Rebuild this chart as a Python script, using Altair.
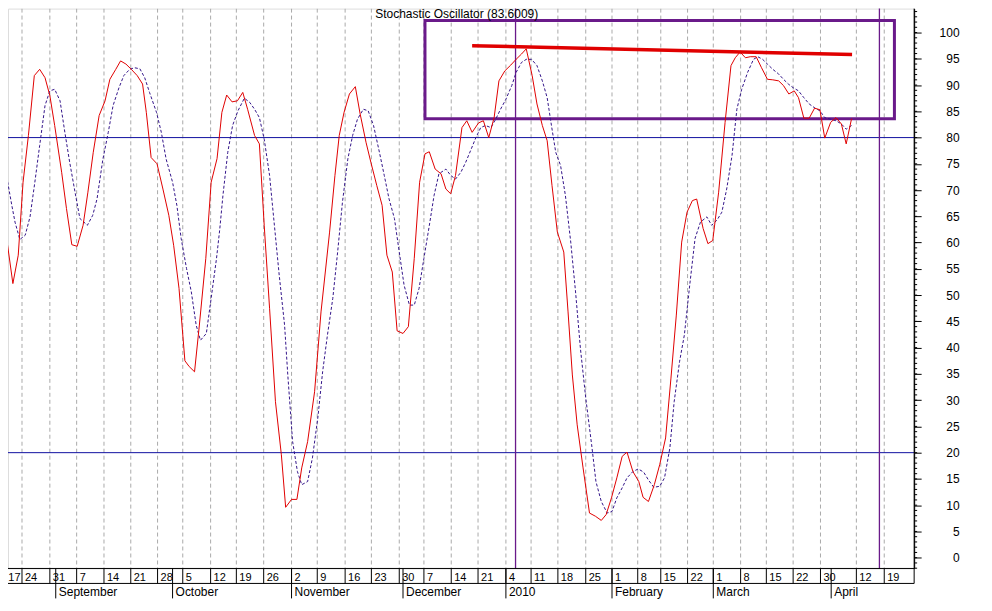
import altair as alt
import pandas as pd

# ---------------- data (trading-day position, value) ----------------
k_day = [0.0, 0.9, 2.4, 3.4, 4.3, 5.3, 6.4, 7.4, 8.4, 9.3, 10.2, 11.5, 12.4, 13.4, 14.4, 15.5,
         16.4, 17.4, 18.5, 19.6, 20.5, 21.6, 22.5, 23.5, 24.5, 25.6, 26.6, 27.3, 28.2, 29.3, 30.4,
         31.5, 32.4, 33.4, 34.5, 35.3, 36.3, 37.2, 38.4, 39.4, 40.5, 41.4, 42.3, 43.3, 44.3, 45.3,
         46.2, 47.5, 48.4, 49.3, 50.3, 51.4, 52.5, 53.3, 54.4, 55.4, 56.3, 57.4, 58.7, 59.9, 61.5,
         62.5, 63.3, 64.2, 65.2, 66.3, 67.2, 68.3, 69.2, 70.3, 71.3, 72.2, 73.2, 74.1, 75.2, 76.2,
         77.3, 78.3, 79.3, 80.1, 81.2, 82.3, 83.2, 84.1, 85.0, 86.2, 87.1, 88.1, 89.3, 90.2, 91.2,
         92.2, 93.1, 94.2, 95.3, 96.3, 97.3, 98.2, 99.3, 100.2, 101.2, 102.1, 103.0, 104.0, 105.2,
         106.0, 106.8, 107.7, 108.8, 110.0, 111.1, 112.2, 113.1, 114.1, 115.1, 116.1, 117.0, 118.1,
         119.2, 120.0, 121.0, 122.1, 123.1, 124.2, 125.2, 126.2, 127.2, 128.2, 129.2, 130.0, 131.2,
         132.1, 133.0, 134.1, 135.3, 136.4, 137.2, 138.1, 139.1, 140.0, 141.1, 142.1, 143.2, 144.2,
         145.3, 146.2, 147.2, 148.2, 149.0, 150.0, 151.0, 152.0, 153.0, 153.9, 155.0, 156.0, 157.0,
         157.9, 158.9]
k_val = [68.3, 63.3, 52.2, 57.6, 71.5, 80.4, 91.8, 93.0, 91.4, 88.0, 82.3, 73.4, 66.5, 59.6, 59.3, 63.3,
         69.6, 77.2, 84.2, 87.0, 91.1, 93.0, 94.6, 94.0, 93.0, 91.8, 90.2, 84.8, 76.2, 75.0, 70.2,
         65.2, 59.5, 51.3, 37.5, 36.4, 35.4, 44.3, 57.0, 71.5, 76.0, 84.8, 88.1, 86.8, 87.0, 88.6,
         85.4, 80.4, 78.8, 63.3, 47.5, 29.7, 19.6, 9.6, 11.1, 11.1, 17.1, 22.1, 31.6, 46.8, 62.0,
         72.8, 80.4, 84.8, 88.3, 89.7, 84.5, 79.1, 75.3, 70.9, 67.1, 57.6, 54.4, 43.2, 42.7, 44.0,
         57.0, 71.5, 76.9, 77.3, 74.0, 73.1, 70.2, 69.3, 72.8, 81.9, 83.2, 81.0, 82.8, 83.2, 80.0,
         83.8, 90.8, 92.7, 93.8, 94.9, 95.9, 96.9, 91.8, 86.4, 82.3, 79.4, 70.9, 62.0, 58.2,
         46.8, 34.8, 25.3, 17.1, 8.5, 7.9, 7.1, 8.2, 11.4, 15.2, 19.3, 20.1, 16.4,
         14.5, 11.5, 10.7, 13.9, 17.7, 22.8, 34.2, 46.2, 60.1, 65.8, 68.0, 68.3, 62.7,
         59.8, 60.4, 69.6, 82.9, 93.7, 95.2, 96.3, 95.2, 95.4, 95.4, 93.3, 91.1, 91.0,
         90.8, 89.9, 88.3, 88.9, 87.6, 83.7, 83.7, 85.6, 85.3, 79.9, 82.9, 83.8, 82.6,
         78.8, 83.6]

d_day = [0.0, 1.1, 2.2, 2.8, 3.7, 4.7, 5.6, 6.5, 7.4, 8.4, 9.3, 10.2, 11.2, 12.1, 13.0, 14.0,
         14.9, 16.3, 17.3, 18.1, 19.2, 20.2, 21.1, 22.2, 23.1, 24.2, 25.1, 26.1, 27.0, 27.9, 29.2,
         30.1, 31.0, 32.2, 33.0, 33.8, 34.8, 35.7, 36.6, 37.4, 38.5, 39.4, 40.4, 41.0, 41.6, 42.5,
         43.4, 44.4, 45.6, 46.6, 47.5, 48.4, 49.3, 50.3, 51.2, 52.1, 53.1, 53.7, 54.6, 55.5, 56.3,
         57.4, 58.3, 59.3, 60.2, 61.1, 62.1, 63.0, 63.9, 64.9, 65.8, 66.7, 67.8, 68.7, 69.7, 70.8,
         71.7, 72.6, 73.6, 74.5, 75.4, 76.4, 77.3, 78.2, 79.1, 80.1, 81.0, 81.9, 83.2, 84.1, 85.0,
         86.0, 86.9, 87.8, 88.8, 89.7, 90.6, 91.6, 92.5, 93.4, 94.4, 95.5, 96.3, 97.3, 98.2, 99.2,
         100.2, 101.2, 102.1, 102.9, 103.7, 104.6, 105.5, 106.5, 107.4, 108.3, 109.3, 110.4, 111.2,
         112.2, 113.3, 114.2, 115.1, 116.1, 117.0, 118.1, 119.1, 120.1, 121.0, 122.0, 123.1, 124.0,
         125.0, 125.8, 126.8, 127.7, 128.7, 129.7, 130.7, 131.9, 132.8, 133.8, 134.7, 135.6, 136.6,
         137.5, 138.4, 139.5, 140.6, 141.4, 142.3, 143.2, 144.2, 145.3, 146.2, 147.1, 148.0, 149.0,
         150.0, 151.0, 152.1, 153.0, 153.9, 155.0, 156.0, 157.0, 157.9, 158.9]
d_val = [78.1, 73.4, 67.1, 63.9, 60.6, 61.4, 64.9, 71.5, 78.5, 86.1, 88.9, 89.2, 87.0, 81.0, 75.3, 69.6,
         64.6, 63.3, 65.2, 68.3, 75.9, 81.0, 86.1, 89.5, 91.8, 93.0, 93.3, 93.1, 91.4, 88.6, 84.8,
         81.0, 75.9, 71.5, 67.1, 60.8, 55.1, 50.6, 44.3, 41.4, 42.7, 49.4, 57.0, 62.5, 69.0, 77.2,
         82.3, 85.1, 87.5, 86.7, 85.4, 83.8, 79.7, 72.8, 63.3, 53.8, 44.3, 34.8, 22.1, 16.4, 13.9,
         14.5, 19.0, 26.6, 35.4, 42.4, 49.4, 58.2, 67.7, 75.9, 80.4, 83.5, 85.4, 85.1, 82.3, 77.2,
         72.8, 68.3, 64.6, 58.2, 51.9, 48.1, 48.1, 51.3, 57.0, 63.2, 69.0, 73.1, 74.0, 72.8, 72.1,
         73.4, 75.3, 77.5, 80.0, 81.9, 82.3, 81.9, 83.5, 85.4, 87.3, 89.9, 92.4, 94.3, 94.9, 94.9,
         93.7, 90.8, 87.6, 82.3, 77.2, 74.7, 69.0, 60.1, 50.6, 39.9, 30.4, 21.5, 14.5,
         10.7, 8.5, 8.8, 11.4, 13.3, 15.2, 16.4, 16.9, 16.3, 14.8, 13.4, 13.6, 15.2,
         20.9, 29.7, 37.3, 42.4, 51.9, 60.8, 63.9, 64.9, 63.3, 64.3, 65.8, 70.2, 76.6,
         85.4, 89.2, 92.4, 94.9, 95.4, 94.9, 94.0, 93.0, 92.1, 91.1, 90.2, 89.5, 88.9,
         87.6, 86.4, 85.6, 85.1, 83.8, 83.5, 83.2, 82.6, 81.6, 82.3]

# weekly date ticks (first trading day of each week)
tick_day = [1.0, 4.1, 9.3, 14.3, 19.4, 24.4, 29.4, 34.1, 39.3, 44.1, 49.2, 54.4, 59.2, 64.4,
            69.3, 74.5, 79.1, 84.2, 89.2, 94.4, 99.1, 104.1, 109.3, 114.2, 119.0, 123.3, 128.3,
            133.1, 138.2, 143.0, 148.0, 153.1, 159.8, 165.0]
tick_label = ["17", "24", "31", "7", "14", "21", "28", "5", "12", "19", "26", "2", "9", "16",
              "23", "30", "7", "14", "21", "4", "11", "18", "25", "1", "8", "15", "22",
              "1", "8", "15", "22", "30", "12", "19"]
month_day = [10.4, 32.2, 54.4, 75.2, 94.4, 114.2, 133.1, 155.1]
month_label = ["September", "October", "November", "December", "2010", "February", "March", "April"]

levels = [20, 80]
marker_day = [96.2, 164.1]
box_day = [79.3, 166.9]
box_val = [83.6009, 102.3]
trend_day = [88.1, 159.0]
trend_val = [97.5, 95.8]
title_text = "Stochastic Oscillator (83.6009)"

# ---------------- layout ----------------
W, H = 908, 561
FONT = "Liberation Sans"
xs = alt.Scale(domain=[1.49, 170.58], nice=False, zero=False)
ys = alt.Scale(domain=[-2.05, 104.56], nice=False, zero=False)

RED = "#e00000"
DBLUE = "#33158a"
NAVY = "#1010a0"
PURPLE = "#6a1a8a"
GRID = "#aaaaaa"

YAX = alt.Axis(orient="right", values=list(range(0, 101, 5)), tickSize=7,
               tickColor="black", domainColor="black", labelAlign="right",
               labelBaseline="middle", labelPadding=38, labelFont=FONT,
               labelFontSize=12, labelColor="black", grid=False, title=None,
               labelOverlap=False)

k_df = pd.DataFrame({"day": k_day, "value": k_val})
d_df = pd.DataFrame({"day": d_day, "value": d_val})
tick_df = pd.DataFrame({"day": tick_day, "label": tick_label})
month_df = pd.DataFrame({"day": month_day, "label": month_label})
lvl_df = pd.DataFrame({"value": levels})
mark_df = pd.DataFrame({"day": marker_day})
box_df = pd.DataFrame({"x": [box_day[0]], "x2": [box_day[1]], "value": [box_val[0]], "y2": [box_val[1]]})
trend_df = pd.DataFrame({"day": trend_day, "value": trend_val})
title_df = pd.DataFrame({"t": [title_text]})
minor_df = pd.DataFrame({"value": list(range(-2, 105))})
one_df = pd.DataFrame({"n": [0]})

X = alt.X("day:Q", scale=xs, axis=None)
Y = alt.Y("value:Q", scale=ys, axis=YAX)

grid = alt.Chart(tick_df).mark_rule(color=GRID, strokeWidth=1, strokeDash=[4, 3], clip=True).encode(
    x=X, y=alt.value(0), y2=alt.value(H))

lvl = alt.Chart(lvl_df).mark_rule(color=NAVY, strokeWidth=1).encode(
    y=Y, x=alt.value(0), x2=alt.value(W))

vmark = alt.Chart(mark_df).mark_rule(color=PURPLE, strokeWidth=1.3).encode(
    x=X, y=alt.value(0), y2=alt.value(H))

box = alt.Chart(box_df).mark_rect(fillOpacity=0, stroke=PURPLE, strokeWidth=3).encode(
    x=alt.X("x:Q", scale=xs, axis=None), x2="x2:Q", y=Y, y2="y2:Q")

trend = alt.Chart(trend_df).mark_line(color=RED, strokeWidth=3.5).encode(x=X, y=Y)

dline = alt.Chart(d_df).mark_line(color=DBLUE, strokeWidth=1, strokeDash=[3, 2], clip=True).encode(
    x=X, y=Y)

kline = alt.Chart(k_df).mark_line(color=RED, strokeWidth=1, clip=True).encode(x=X, y=Y)

minor = alt.Chart(minor_df).mark_rule(color="black", strokeWidth=1).encode(
    y=Y, x=alt.value(W), x2=alt.value(W + 3))

hline1 = alt.Chart(one_df).mark_rule(color="black", strokeWidth=1).encode(
    x=alt.value(0), x2=alt.value(W), y=alt.value(H))
hline2 = alt.Chart(one_df).mark_rule(color="black", strokeWidth=1).encode(
    x=alt.value(0), x2=alt.value(W), y=alt.value(H + 15))

edge = alt.Chart(one_df).mark_rule(color="black", strokeWidth=1).encode(
    x=alt.value(W), y=alt.value(0), y2=alt.value(H + 15))

dticks = alt.Chart(tick_df).mark_rule(color="black", strokeWidth=1).encode(
    x=X, y=alt.value(H), y2=alt.value(H + 15))

mticks = alt.Chart(month_df).mark_rule(color="black", strokeWidth=1).encode(
    x=X, y=alt.value(H), y2=alt.value(H + 30))

dlabels = alt.Chart(tick_df).mark_text(align="left", baseline="alphabetic", dx=3, font=FONT,
                                       fontSize=11, color="black").encode(
    x=X, y=alt.value(H + 13), text="label:N")

mlabels = alt.Chart(month_df).mark_text(align="left", baseline="alphabetic", dx=3, font=FONT,
                                        fontSize=12, color="black").encode(
    x=X, y=alt.value(H + 28), text="label:N")

title = alt.Chart(title_df).mark_text(align="left", baseline="alphabetic", font=FONT,
                                      fontSize=12, color="black").encode(
    x=alt.value(368), y=alt.value(9), text="t:N")

chart = alt.layer(
    grid, lvl, vmark, box, trend, dline, kline, minor, hline1, hline2, edge, dticks, mticks,
    dlabels, mlabels, title
).properties(
    width=W, height=H,
    autosize=alt.AutoSizeParams(type="none"),
    padding={"left": 0, "top": 0, "right": 70, "bottom": 33},
).configure_view(strokeWidth=0).configure(background="white")

chart.save("out.html", embed_options={"renderer": "svg", "actions": False})
